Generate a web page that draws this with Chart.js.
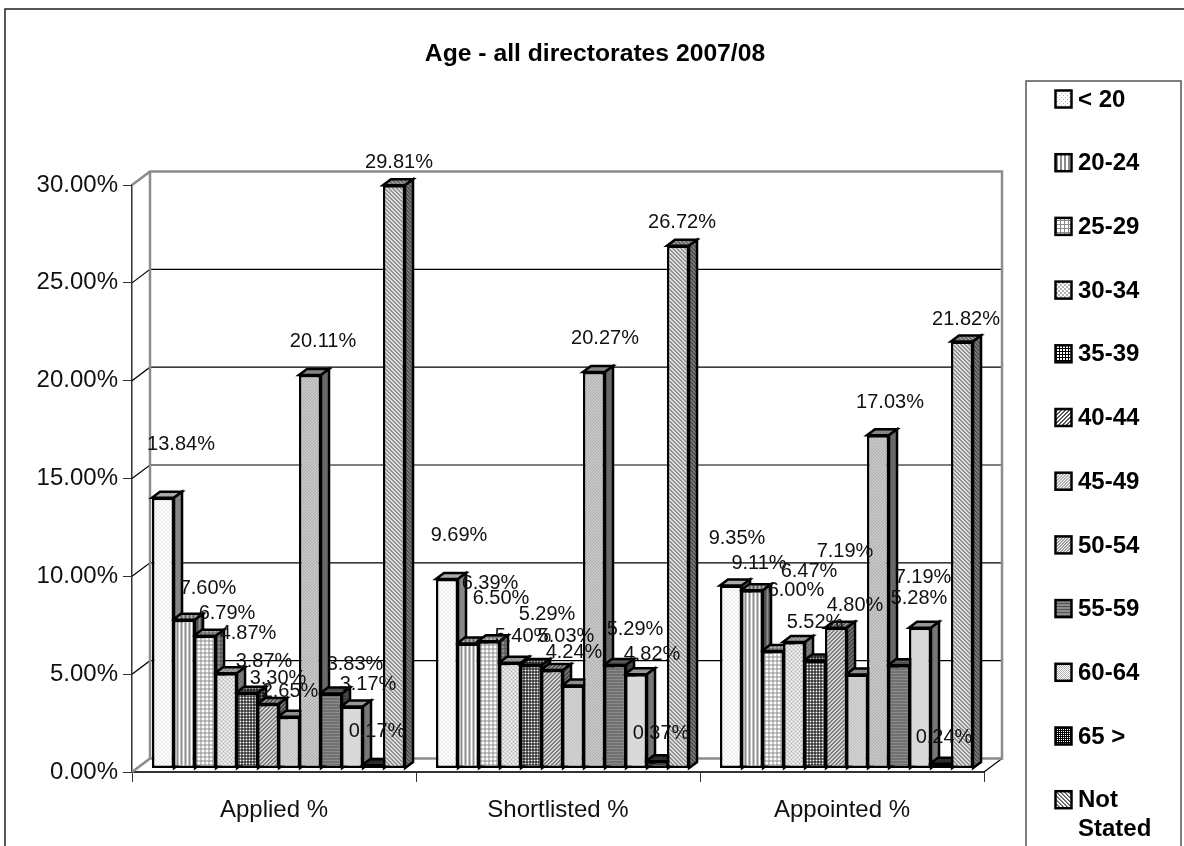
<!DOCTYPE html>
<html>
<head>
<meta charset="utf-8">
<title>Age - all directorates 2007/08</title>
<script src="https://cdn.jsdelivr.net/npm/chart.js@4"></script>
<style>
   html, body { margin: 0; padding: 0; background: #fff; overflow: hidden; }
   canvas { display: block; }
</style>
</head>
<body>
<canvas id="myChart" width="1184" height="846"></canvas>
<script>
//* DATA
const stages = ["Applied %", "Shortlisted %", "Appointed %"];
const ageGroups = ["< 20", "20-24", "25-29", "30-34", "35-39", "40-44", "45-49", "50-54", "55-59", "60-64", "65 >", "Not Stated"];
const applied = [13.84, 7.6, 6.79, 4.87, 3.87, 3.3, 2.65, 20.11, 3.83, 3.17, 0.17, 29.81];
const shortlisted = [9.69, 6.39, 6.5, 5.4, 5.29, 5.03, 4.24, 20.27, 5.29, 4.82, 0.37, 26.72];
const appointed = [9.35, 9.11, 6.0, 6.47, 5.52, 7.19, 4.8, 17.03, 5.28, 7.19, 0.24, 21.82];
const yTickStep = 5;
const yMax = 30;

//* LABEL PLACEMENT - how far each value label sits from the top of its bar
const appliedNudge = [[18, -53], [24, -31], [22, -22], [22, -40], [17, -31], [10, -25], [1, -25], [13, -34], [24, -29], [16, -22], [4, -34], [5, -23]];
const shortlistedNudge = [[12, -43], [22, -60], [12, -43], [13, -26], [16, -51], [14, -34], [1, -33], [11, -33], [20, -36], [16, -20], [4, -28], [4, -23]];
const appointedNudge = [[6, -47], [7, -27], [23, -61], [15, -70], [0, -38], [9, -76], [-2, -69], [12, -33], [20, -67], [3, -50], [3, -26], [4, -22]];
const nudges = [appliedNudge, shortlistedNudge, appointedNudge];

//* 3D SETTINGS
const WALL_DX = 18;
const WALL_DY = 13.5;
const BAR_SHIFT_X = 4.5;
const BAR_SHIFT_Y = -3.5;
const BAR_DX = 8;
const BAR_DY = 6;

//* FILL PATTERNS, one per age group
const shades = { ".": "#fff", a: "#b4b4b4", b: "#8c8c8c", c: "#555", d: "#000" };
const tiles = [
   ["....", ".a..", "....", "...a"],
   ["bb..", "bb.."],
   ["bbbb", "b...", "b...", "b..."],
   ["aa..", "aa..", "..aa", "..aa"],
   ["ddd", "d..", "d.."],
   ["..cc", ".cc.", "cc..", "c..c"],
   ["aa.", "a.a", ".aa"],
   ["ba.", "a.b", ".ba"],
   ["c", "b", "b"],
   ["a.", ".a"],
   ["dd", "d."],
   ["cb..", ".cb.", "..cb", "b..c"],
];

function makePattern(rows) {
   const tile = document.createElement("canvas");
   tile.width = rows[0].length;
   tile.height = rows.length;
   const tctx = tile.getContext("2d");
   rows.forEach((row, y) => {
      [...row].forEach((ch, x) => {
         tctx.fillStyle = shades[ch];
         tctx.fillRect(x, y, 1, 1);
      });
   });
   return tctx.createPattern(tile, "repeat");
}

const patterns = tiles.map(makePattern);

const datasets = ageGroups.map((label, i) => ({
   label: label,
   data: [applied[i], shortlisted[i], appointed[i]],
   backgroundColor: patterns[i],
   borderColor: "#000",
   borderWidth: 2.5,
   borderSkipped: false,
   clip: false,
}));

function polygon(ctx, pts, fill, shade) {
   ctx.beginPath();
   pts.forEach((p, i) => (i ? ctx.lineTo(p[0], p[1]) : ctx.moveTo(p[0], p[1])));
   ctx.closePath();
   ctx.fillStyle = fill;
   ctx.fill();
   ctx.fillStyle = shade;
   ctx.fill();
   ctx.stroke();
}

function drawWall(chart) {
   const ctx = chart.ctx;
   const { left, right, top, bottom } = chart.chartArea;
   const y = chart.scales.y;
   ctx.save();
   // gridlines on the back wall
   ctx.strokeStyle = "#000";
   ctx.lineWidth = 1.2;
   y.ticks.forEach((t) => {
      const py = y.getPixelForValue(t.value);
      ctx.beginPath();
      ctx.moveTo(left, py);
      ctx.lineTo(left + WALL_DX, py - WALL_DY);
      if (t.value > 0 && t.value < yMax) ctx.lineTo(right + WALL_DX, py - WALL_DY);
      ctx.stroke();
   });
   ctx.beginPath();
   ctx.moveTo(right, bottom);
   ctx.lineTo(right + WALL_DX, bottom - WALL_DY);
   ctx.stroke();
   // wall and floor outline
   ctx.strokeStyle = "#8c8c8c";
   ctx.lineWidth = 2.5;
   ctx.beginPath();
   ctx.moveTo(left, top);
   ctx.lineTo(left + WALL_DX, top - WALL_DY);
   ctx.lineTo(right + WALL_DX, top - WALL_DY);
   ctx.lineTo(right + WALL_DX, bottom - WALL_DY);
   ctx.lineTo(left + WALL_DX, bottom - WALL_DY);
   ctx.lineTo(left + WALL_DX, top - WALL_DY);
   ctx.moveTo(left, bottom);
   ctx.lineTo(left + WALL_DX, bottom - WALL_DY);
   ctx.stroke();
   ctx.restore();
}

// Top and side faces go down left to right, so each bar covers the side of the one before it.
// The front faces are the chart's own bars and land on top of all of these.
function drawBarFaces(chart) {
   const ctx = chart.ctx;
   ctx.save();
   ctx.translate(BAR_SHIFT_X, BAR_SHIFT_Y);
   ctx.strokeStyle = "#000";
   ctx.lineWidth = 2.5;
   chart.data.datasets.forEach((ds, i) => {
      chart.getDatasetMeta(i).data.forEach((el) => {
         const l = el.x - el.width / 2;
         const r = el.x + el.width / 2;
         polygon(ctx, [[l, el.y], [l + BAR_DX, el.y - BAR_DY], [r + BAR_DX, el.y - BAR_DY], [r, el.y]], patterns[i], "rgba(0,0,0,0.3)");
         polygon(ctx, [[r, el.y], [r + BAR_DX, el.y - BAR_DY], [r + BAR_DX, el.base - BAR_DY], [r, el.base]], patterns[i], "rgba(0,0,0,0.45)");
      });
   });
   ctx.restore();
}

function drawLegendPanel(chart) {
   const ctx = chart.ctx;
   ctx.fillStyle = "#fff";
   ctx.fillRect(1026, 81, 155, chart.height - 81);
   ctx.strokeStyle = "#555";
   ctx.lineWidth = 1.5;
   ctx.strokeRect(1026, 81, 155, chart.height + 10 - 81);
   ctx.font = "bold 24px 'Liberation Sans', Arial, sans-serif";
   ctx.textAlign = "left";
   ctx.textBaseline = "middle";
   chart.data.datasets.forEach((ds, i) => {
      const cy = 99 + i * 63.7;
      ctx.fillStyle = ds.backgroundColor;
      ctx.fillRect(1055.5, cy - 8.5, 16, 17);
      ctx.strokeStyle = "#000";
      ctx.lineWidth = 2.5;
      ctx.strokeRect(1055.5, cy - 8.5, 16, 17);
      ctx.fillStyle = "#000";
      const lines = ctx.measureText(ds.label).width > 100 ? ds.label.split(" ") : [ds.label];
      lines.forEach((line, k) => ctx.fillText(line, 1078, cy + 1 + k * 29));
   });
}

const bars3d = {
   id: "bars3d",
   afterLayout(chart) {
      // title is centred over the page rather than the plot
      chart.titleBlock.left = 6;
      chart.titleBlock.right = chart.width;
   },
   beforeDraw(chart) {
      const ctx = chart.ctx;
      ctx.save();
      ctx.fillStyle = "#fff";
      ctx.fillRect(0, 0, chart.width, chart.height);
      // outer frame
      ctx.strokeStyle = "#222";
      ctx.lineWidth = 1.5;
      ctx.beginPath();
      ctx.moveTo(5, chart.height);
      ctx.lineTo(5, 9);
      ctx.lineTo(chart.width, 9);
      ctx.stroke();
      ctx.restore();
   },
   beforeDatasetsDraw(chart) {
      drawWall(chart);
      drawBarFaces(chart);
   },
   beforeDatasetDraw(chart) {
      chart.ctx.save();
      chart.ctx.translate(BAR_SHIFT_X, BAR_SHIFT_Y);
   },
   afterDatasetDraw(chart) {
      chart.ctx.restore();
   },
   afterDatasetsDraw(chart) {
      const ctx = chart.ctx;
      ctx.save();
      // value labels
      ctx.font = "20px 'Liberation Sans', Arial, sans-serif";
      ctx.fillStyle = "#111";
      ctx.textAlign = "center";
      ctx.textBaseline = "middle";
      chart.data.datasets.forEach((ds, i) => {
         chart.getDatasetMeta(i).data.forEach((el, j) => {
            const n = nudges[j][i];
            ctx.fillText(ds.data[j].toFixed(2) + "%", el.x + BAR_SHIFT_X + n[0], el.y + BAR_SHIFT_Y + n[1]);
         });
      });
      drawLegendPanel(chart);
      ctx.restore();
   },
};

const ctx = document.getElementById("myChart").getContext("2d");
const myChart = new Chart(ctx, {
   type: "bar",
   data: { labels: stages, datasets: datasets },
   plugins: [bars3d],
   options: {
      responsive: false,
      animation: false,
      layout: { autoPadding: false, padding: { left: 6, right: 200, top: 0, bottom: 0 } },
      datasets: { bar: { categoryPercentage: 252 / 284, barPercentage: 1.05 } },
      plugins: {
         legend: { display: false },
         tooltip: { enabled: false },
         title: {
            display: true,
            text: "Age - all directorates 2007/08",
            color: "#000",
            font: { family: "'Liberation Sans', Arial, sans-serif", size: 24.7, weight: "bold" },
            padding: { top: 39, bottom: 116.4 },
         },
      },
      scales: {
         x: {
            afterFit: (scale) => { scale.height = 74; },
            border: { color: "#333", width: 2 },
            grid: { drawOnChartArea: false, tickLength: 10, color: "#333" },
            ticks: {
               color: "#111",
               padding: 14,
               maxRotation: 0,
               font: { family: "'Liberation Sans', Arial, sans-serif", size: 24 },
            },
         },
         y: {
            min: 0,
            max: yMax,
            afterFit: (scale) => { scale.width = 126; },
            border: { color: "#333", width: 1.5 },
            grid: { drawOnChartArea: false, tickLength: 9, color: "#333" },
            ticks: {
               stepSize: yTickStep,
               color: "#111",
               padding: 5,
               font: { family: "'Liberation Sans', Arial, sans-serif", size: 24 },
               callback: (v) => v.toFixed(2) + "%",
            },
         },
      },
   },
});
</script>
</body>
</html>
